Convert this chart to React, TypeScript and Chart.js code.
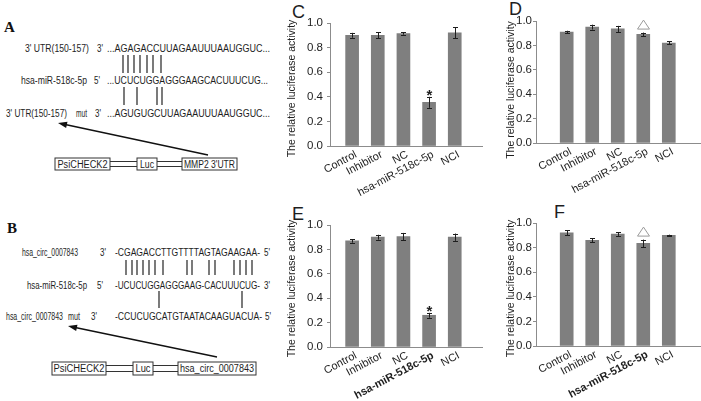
import React, { useEffect, useRef, useState } from 'react';
import { Chart, registerables } from 'chart.js';
Chart.register(...registerables);

const FONT = "'Liberation Sans', Arial, Helvetica, sans-serif";
const SERIF = "'Liberation Serif', 'Times New Roman', serif";

// ---------- data ----------
const categories = ['Control', 'Inhibitor', 'NC', 'hsa-miR-518c-5p', 'NCI'];
const yTickLabels = ['0.0', '0.1', '0.2', '0.3', '0.4', '0.5', '0.6', '0.7', '0.8', '0.9', '1.0'];
const yAxisTitle = 'The relative luciferase activity';

const valuesC = [0.9, 0.9, 0.915, 0.355, 0.92];
const errorsC = [0.02, 0.025, 0.01, 0.045, 0.045];
const marksC = ['', '', '', '*', ''];

const valuesD = [0.91, 0.95, 0.935, 0.89, 0.82];
const errorsD = [0.01, 0.02, 0.025, 0.015, 0.012];
const marksD = ['', '', '', 'triangle', ''];

const valuesE = [0.87, 0.9, 0.905, 0.26, 0.9];
const errorsE = [0.015, 0.02, 0.03, 0.02, 0.03];
const marksE = ['', '', '', '*', ''];

const valuesF = [0.92, 0.86, 0.91, 0.835, 0.9];
const errorsF = [0.02, 0.015, 0.015, 0.03, 0.005];
const marksF = ['', '', '', 'triangle', ''];

// ---------- diagram text ----------
const utrLabel = "3' UTR(150-157)";
const mirLabel = 'hsa-miR-518c-5p';
const circLabel = 'hsa_circ_0007843';
const seqA1 = '...AGAGACCUUAGAAUUUAAUGGUC...';
const seqA2 = '...UCUCUGGAGGGAAGCACUUUCUG...';
const seqA3 = '...AGUGUGCUUAGAAUUUAAUGGUC...';
const seqB1 = '-CGAGACCTTGTTTTAGTAGAAGAA-';
const seqB2 = '-UCUCUGGAGGGAAG-CACUUUCUG-';
const seqB3 = '-CCUCUGCATGTAATACAAGUACUA-';

const pairA12 = [123, 128, 134, 140, 147, 153, 161];
const pairA23 = [124, 137, 157, 162];
const pairB12 = [126, 132, 137, 143, 149, 155, 163, 187, 192, 209, 215, 234, 240, 246, 252];
const pairB23 = [159, 242];

const GRAY = '#8c8c8c';
const BAR = '#7f7f7f';
const TXT = '#1e1e1e';

type Layout = {
  left: number; top: number; width: number; height: number;
  areaLeft: number; areaTop: number; areaRight: number; areaBottom: number;
  xMin: number; xMax: number; titleX: number; titleY: number; tickPad: number; angle: number;
};

type Lbl = { x: number; y: number; text: string };

function BarPanel(p: {
  values: number[]; errors: number[]; marks: string[]; boldLabel: boolean; L: Layout;
}) {
  const ref = useRef<HTMLCanvasElement>(null);
  const [labels, setLabels] = useState<Lbl[]>([]);
  useEffect(() => {
    const L = p.L;
    const plugin = {
      id: 'errorBars',
      afterDatasetsDraw(chart: any) {
        const { ctx } = chart;
        const xs = chart.scales.x;
        const ys = chart.scales.y;
        ctx.save();
        p.values.forEach((v, i) => {
          const e = p.errors[i];
          const cx = Math.round(xs.getPixelForValue(i)) + 0.5;
          const yt = ys.getPixelForValue(v + e);
          const yb = ys.getPixelForValue(v - e);
          ctx.strokeStyle = TXT;
          ctx.lineWidth = 1;
          ctx.beginPath();
          ctx.moveTo(cx, yt);
          ctx.lineTo(cx, yb);
          ctx.moveTo(cx - 2.5, Math.round(yt) + 0.5);
          ctx.lineTo(cx + 2.5, Math.round(yt) + 0.5);
          ctx.moveTo(cx - 2.5, Math.round(yb) + 0.5);
          ctx.lineTo(cx + 2.5, Math.round(yb) + 0.5);
          ctx.stroke();
          const m = p.marks[i];
          if (m === '*') {
            ctx.fillStyle = TXT;
            ctx.font = `bold 15px ${FONT}`;
            ctx.textAlign = 'center';
            ctx.textBaseline = 'alphabetic';
            ctx.fillText('*', cx, yt + 3);
          } else if (m === 'triangle') {
            const b = yt - 3.5;
            ctx.fillStyle = '#fff';
            ctx.strokeStyle = '#9a9a9a';
            ctx.beginPath();
            ctx.moveTo(cx - 6, b);
            ctx.lineTo(cx + 6, b);
            ctx.lineTo(cx, b - 9);
            ctx.closePath();
            ctx.fill();
            ctx.stroke();
          }
        });
        ctx.restore();
      },
      afterDraw(chart: any) {
        const { ctx } = chart;
        ctx.save();
        ctx.translate(L.titleX - L.left, L.titleY - L.top);
        ctx.rotate(-Math.PI / 2);
        ctx.fillStyle = TXT;
        ctx.font = `10.5px ${FONT}`;
        ctx.textAlign = 'center';
        ctx.textBaseline = 'middle';
        ctx.fillText(yAxisTitle, 0, 0);
        ctx.restore();
      },
    };
    const chart = new Chart(ref.current!, {
      type: 'bar',
      data: {
        labels: categories,
        datasets: [{
          data: p.values.map((v, i) => ({ x: i, y: v })),
          backgroundColor: BAR,
          borderWidth: 0,
          barThickness: 13,
        }],
      },
      options: {
        animation: false,
        responsive: false,
        devicePixelRatio: 1,
        layout: { padding: { top: L.areaTop, left: 0, right: L.width - L.areaRight, bottom: 0 } },
        plugins: { legend: { display: false }, tooltip: { enabled: false } },
        scales: {
          x: {
            type: 'linear',
            min: L.xMin,
            max: L.xMax,
            grid: { display: false, drawTicks: false },
            border: { display: true, color: GRAY, width: 1 },
            afterBuildTicks: (s: any) => { s.ticks = categories.map((_, i) => ({ value: i })); },
            afterFit: (s: any) => { s.height = L.height - L.areaBottom; },
            ticks: { display: false },
          },
          y: {
            min: 0,
            max: 1,
            grid: { display: true, drawOnChartArea: false, drawTicks: true, tickLength: 3, color: GRAY },
            border: { display: true, color: GRAY, width: 1 },
            afterFit: (s: any) => { s.width = L.areaLeft; },
            ticks: {
              stepSize: 0.1,
              padding: L.tickPad,
              color: TXT,
              font: { family: FONT, size: 11.5 },
              callback: (v: any) => yTickLabels[Math.round(Number(v) * 10)] ?? '',
            },
            title: { display: false },
          },
        },
      } as any,
      plugins: [plugin],
    });
    const xs: any = chart.scales.x;
    setLabels(categories.map((c, i) => ({ x: xs.getPixelForValue(i), y: chart.chartArea.bottom, text: c })));
    return () => chart.destroy();
  }, []);
  const L = p.L;
  return (
    <div style={{ position: 'absolute', left: L.left, top: L.top, width: L.width, height: L.height }}>
      <canvas
        ref={ref}
        width={L.width}
        height={L.height}
        style={{ position: 'absolute', left: 0, top: 0, width: L.width, height: L.height }}
      />
      <svg width={L.width} height={L.height} style={{ position: 'absolute', left: 0, top: 0, overflow: 'visible' }}>
        {labels.map((l, i) => (
          <text key={i} transform={`translate(${l.x + 4},${l.y + 8}) rotate(${-L.angle})`}
            textAnchor="end" dominantBaseline="middle" fontSize={11} fontFamily={FONT}
            fontWeight={p.boldLabel && i === 3 ? 'bold' : 'normal'} fill={TXT}>{l.text}</text>
        ))}
      </svg>
    </div>
  );
}

const layoutC: Layout = { left: 285, top: 0, width: 210, height: 200, areaLeft: 45, areaTop: 23, areaRight: 197, areaBottom: 146, xMin: -0.27, xMax: 4.47, titleX: 292.5, titleY: 88.5, tickPad: 4, angle: 28 };
const layoutD: Layout = { left: 495, top: 0, width: 206, height: 200, areaLeft: 41, areaTop: 21, areaRight: 205, areaBottom: 143, xMin: -0.56, xMax: 4.58, titleX: 511, titleY: 90, tickPad: 1, angle: 28 };
const layoutE: Layout = { left: 285, top: 200, width: 210, height: 201, areaLeft: 45, areaTop: 25, areaRight: 197, areaBottom: 147, xMin: -0.27, xMax: 4.47, titleX: 292.5, titleY: 288.5, tickPad: 4, angle: 28 };
const layoutF: Layout = { left: 495, top: 200, width: 206, height: 201, areaLeft: 41, areaTop: 23, areaRight: 205, areaBottom: 146, xMin: -0.56, xMax: 4.58, titleX: 511, titleY: 288.5, tickPad: 1, angle: 28 };

function T(props: { x: number; y: number; w: number; s?: number; children: string }) {
  return (
    <text x={props.x} y={props.y} textLength={props.w} lengthAdjust="spacingAndGlyphs"
      fontSize={props.s ?? 10.5} fontFamily={FONT} fill={TXT}>{props.children}</text>
  );
}

function arrowHead(x1: number, y1: number, x2: number, y2: number, len: number, half: number) {
  const dx = x2 - x1, dy = y2 - y1;
  const l = Math.hypot(dx, dy);
  const ux = dx / l, uy = dy / l;
  const bx = x2 - ux * len, by = y2 - uy * len;
  return `${x2},${y2} ${bx - uy * half},${by + ux * half} ${bx + uy * half},${by - ux * half}`;
}

function Construct(props: { y: number; h: number; boxes: [number, number, string, number][] }) {
  const { y, h, boxes } = props;
  const els: any[] = [];
  for (let i = 0; i < boxes.length - 1; i++) {
    const x1 = boxes[i][1], x2 = boxes[i + 1][0];
    els.push(<line key={'a' + i} x1={x1} x2={x2} y1={y + 3.5} y2={y + 3.5} stroke="#333" strokeWidth={1} />);
    els.push(<line key={'b' + i} x1={x1} x2={x2} y1={y + h - 3.5} y2={y + h - 3.5} stroke="#333" strokeWidth={1} />);
  }
  boxes.forEach(([x1, x2, label, tw], i) => {
    els.push(<rect key={'r' + i} x={x1} y={y} width={x2 - x1} height={h} fill="#fff" stroke="#333" strokeWidth={1} />);
    els.push(
      <text key={'t' + i} x={(x1 + x2) / 2} y={y + h / 2 + 3.6} textAnchor="middle" textLength={tw}
        lengthAdjust="spacingAndGlyphs" fontSize={10} fontFamily={FONT} fill={TXT}>{label}</text>
    );
  });
  return <g>{els}</g>;
}

function Diagram() {
  return (
    <svg width={701} height={401} style={{ position: 'absolute', left: 0, top: 0 }}>
      {/* Panel A */}
      <text x={4} y={32} fontSize={15} fontWeight="bold" fontFamily={SERIF} fill="#111">A</text>
      <T x={25} y={51.5} w={64}>{utrLabel}</T>
      <T x={97} y={51.5} w={6}>3'</T>
      <T x={107} y={51.5} w={163}>{seqA1}</T>
      <T x={21} y={83.5} w={66}>{mirLabel}</T>
      <T x={94} y={83.5} w={6}>5'</T>
      <T x={107} y={83.5} w={161}>{seqA2}</T>
      <T x={6} y={116.5} w={61}>{utrLabel}</T>
      <T x={76} y={116.5} w={11}>mut</T>
      <T x={95} y={116.5} w={6}>3'</T>
      <T x={107} y={116.5} w={163}>{seqA3}</T>
      {pairA12.map((x, i) => <line key={'pa' + i} x1={x} x2={x} y1={55} y2={73} stroke="#222" strokeWidth={1.2} />)}
      {pairA23.map((x, i) => <line key={'pb' + i} x1={x} x2={x} y1={87} y2={105} stroke="#222" strokeWidth={1.2} />)}
      <line x1={208} y1={155} x2={64} y2={124.3} stroke="#111" strokeWidth={1.4} />
      <polygon points={arrowHead(208, 155, 58, 123, 9, 3.2)} fill="#111" />
      <Construct y={158} h={12} boxes={[[55, 110, 'PsiCHECK2', 50], [137, 157, 'Luc', 14], [182, 237, "MMP2 3'UTR", 51]]} />

      {/* Panel B */}
      <text x={7} y={233} fontSize={15} fontWeight="bold" fontFamily={SERIF} fill="#111">B</text>
      <T x={22} y={255.5} w={56}>{circLabel}</T>
      <T x={100} y={255.5} w={6}>3'</T>
      <T x={115} y={255.5} w={145}>{seqB1}</T>
      <T x={264} y={255.5} w={6}>5'</T>
      <T x={27} y={288.5} w={60}>{mirLabel}</T>
      <T x={97} y={288.5} w={6}>5'</T>
      <T x={115} y={288.5} w={145}>{seqB2}</T>
      <T x={264} y={288.5} w={6}>3'</T>
      <T x={6} y={319.5} w={57}>{circLabel}</T>
      <T x={68} y={319.5} w={12}>mut</T>
      <T x={91} y={319.5} w={6}>3'</T>
      <T x={115} y={319.5} w={147}>{seqB3}</T>
      <T x={265} y={319.5} w={6}>5'</T>
      {pairB12.map((x, i) => <line key={'pc' + i} x1={x} x2={x} y1={260} y2={275} stroke="#222" strokeWidth={1.2} />)}
      {pairB23.map((x, i) => <line key={'pd' + i} x1={x} x2={x} y1={291} y2={308} stroke="#222" strokeWidth={1.2} />)}
      <line x1={217} y1={357} x2={74} y2={327.3} stroke="#111" strokeWidth={1.4} />
      <polygon points={arrowHead(217, 357, 68, 326, 9, 3.2)} fill="#111" />
      <Construct y={362} h={13} boxes={[[52, 106, 'PsiCHECK2', 51], [133, 153, 'Luc', 15], [178, 256, 'hsa_circ_0007843', 74]]} />

      {/* Panel letters */}
      <text x={292} y={18} fontSize={18} fontFamily={FONT} fill={TXT}>C</text>
      <text x={509} y={15} fontSize={18} fontFamily={FONT} fill={TXT}>D</text>
      <text x={292} y={220} fontSize={18} fontFamily={FONT} fill={TXT}>E</text>
      <text x={554} y={218} fontSize={18} fontFamily={FONT} fill={TXT}>F</text>
    </svg>
  );
}

export default function App() {
  return (
    <div style={{ position: 'fixed', left: 0, top: 0, width: 701, height: 401, background: '#fff', overflow: 'hidden' }}>
      <Diagram />
      <BarPanel values={valuesC} errors={errorsC} marks={marksC} boldLabel={false} L={layoutC} />
      <BarPanel values={valuesD} errors={errorsD} marks={marksD} boldLabel={false} L={layoutD} />
      <BarPanel values={valuesE} errors={errorsE} marks={marksE} boldLabel={true} L={layoutE} />
      <BarPanel values={valuesF} errors={errorsF} marks={marksF} boldLabel={true} L={layoutF} />
    </div>
  );
}
